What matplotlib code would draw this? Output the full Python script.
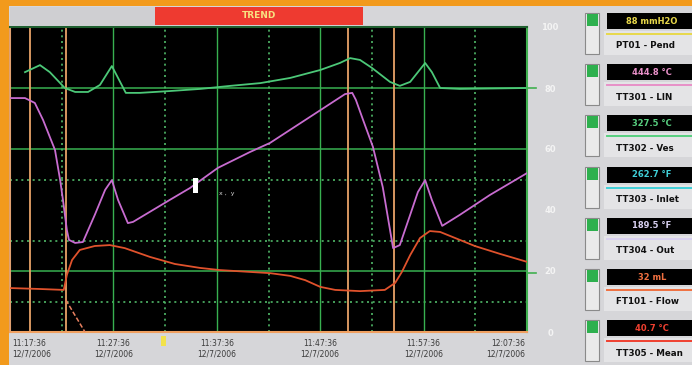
import matplotlib
matplotlib.use("Agg")
import matplotlib.pyplot as plt
from matplotlib.patches import Rectangle
from matplotlib.lines import Line2D

# ---------------- data ----------------
green_x = [2.9, 5.8, 7.7, 10.6, 12.6, 15.1, 17.4, 19.7, 21.3, 22.4, 25.1, 30.9, 36.8, 42.6,
           48.4, 54.2, 60.0, 63.8, 65.8, 67.7, 70.0, 73.5, 75.4, 77.4, 78.9, 80.3, 81.6,
           83.2, 87.0, 100.0]
green_y = [85.2, 87.5, 85.2, 80.0, 78.7, 78.7, 81.0, 87.2, 82.0, 78.4, 78.4, 79.0, 79.7, 80.7,
           81.6, 83.3, 85.9, 88.2, 89.8, 89.2, 86.6, 82.0, 80.7, 82.0, 85.2, 88.2, 85.2,
           80.0, 79.7, 80.0]

magenta_x = [0.2, 2.9, 4.8, 6.4, 8.7, 9.7, 10.3, 11.0, 11.4, 12.6, 14.1, 16.4, 18.4, 19.7,
             20.9, 22.8, 23.8, 30.9, 34.8, 40.2, 46.4, 50.3, 57.1, 61.9, 64.8, 66.2, 66.9,
             68.3, 70.2, 72.1, 74.1, 75.4, 77.4, 78.9, 80.3, 81.6, 83.6, 87.0, 92.8, 100.0]
magenta_y = [76.7, 76.7, 75.1, 69.5, 59.7, 49.8, 42.6, 33.4, 30.2, 29.2, 29.5, 38.4, 46.6, 49.8,
             43.3, 35.7, 36.1, 43.3, 47.2, 53.8, 59.0, 62.0, 69.5, 74.8, 78.0, 78.4, 76.1,
             69.5, 60.7, 47.5, 27.5, 28.5, 38.4, 45.9, 49.8, 43.3, 34.8, 38.4, 44.9, 52.1]

red_x = [0.2, 5.8, 10.4, 11.0, 12.0, 13.5, 16.4, 19.3, 22.2, 27.1, 31.9, 36.8, 40.6, 46.4,
         50.3, 54.2, 57.1, 60.0, 62.9, 67.7, 72.5, 74.5, 75.8, 77.4, 79.3, 81.2, 83.2, 87.0,
         89.9, 94.8, 100.0]
red_y = [14.4, 14.1, 13.8, 18.7, 23.6, 26.9, 28.2, 28.5, 27.5, 24.6, 22.3, 21.0, 20.3, 19.7,
         19.3, 18.4, 17.0, 14.8, 13.8, 13.4, 13.8, 16.1, 19.7, 25.2, 30.8, 33.1, 32.8, 30.2,
         28.2, 25.6, 23.0]

salmon_x = [10.8, 14.5]
salmon_y = [10.5, 0.0]

cursor_x = [3.9, 10.8, 65.4, 74.3]

hgrid_solid = [80, 60, 20]
hgrid_dotted = [50, 30, 10]
vgrid_solid = [20, 40, 60, 80]
vgrid_dotted = [10, 30, 50, 70, 90]

right_ticks = [100, 80, 60, 40, 20, 0]
right_labels = ["100", "80", "60", "40", "20", "0"]

time_ticks = [0, 20, 40, 60, 80, 100]
time_labels = ["11:17:36", "11:27:36", "11:37:36", "11:47:36", "11:57:36", "12:07:36"]
date_labels = ["12/7/2006"] * 6

panel_values = ["88 mmH2O", "444.8 \u00b0C", "327.5 \u00b0C", "262.7 \u00b0F",
                "189.5 \u00b0F", "32 mL", "40.7 \u00b0C"]
panel_names = ["PT01 - Pend", "TT301 - LIN", "TT302 - Ves", "TT303 - Inlet",
               "TT304 - Out", "FT101 - Flow", "TT305 - Mean"]
panel_colors = ["#E8D84A", "#E890C8", "#58D080", "#40D0D8", "#D8D0F0", "#F07040", "#F04030"]

title_text = "TREND"

# ---------------- figure ----------------
W, H = 692, 365
fig = plt.figure(figsize=(W / 100, H / 100), dpi=100)
fig.patch.set_facecolor("#D6D6D9")


def rect(x0, y0, x1, y1, **kw):
    r = Rectangle((x0 / W, 1 - y1 / H), (x1 - x0) / W, (y1 - y0) / H,
                  transform=fig.transFigure, **kw)
    fig.add_artist(r)
    return r


def fline(xs, ys, **kw):
    l = Line2D([x / W for x in xs], [1 - y / H for y in ys], transform=fig.transFigure, **kw)
    fig.add_artist(l)


def ftext(x, y, s, **kw):
    fig.text(x / W, 1 - y / H, s, **kw)


# orange frame
rect(0, 0, W, 6, facecolor="#F29A1C", edgecolor="none")
rect(0, 0, 9, H, facecolor="#F29A1C", edgecolor="none")

# header bars
rect(10, 7, 155, 25, facecolor="#CFCFD2", edgecolor="none")
rect(155, 7, 363, 25, facecolor="#EE3A30", edgecolor="none")
ftext(259, 16, title_text, color="#F8E080", fontsize=6.5, fontweight="bold",
      ha="center", va="center")

# ---------------- plot axes ----------------
ax = fig.add_axes([10 / W, (H - 332) / H, 517 / W, 305 / H])
ax.set_facecolor("black")
ax.set_xlim(0, 100)
ax.set_ylim(0, 100)
ax.set_xticks([])
ax.set_yticks([])
for side, col in [("left", "#E0A070"), ("bottom", "#F0A060"), ("top", "#206030"), ("right", "#40B050")]:
    ax.spines[side].set_color(col)
    ax.spines[side].set_linewidth(1.5)

for y in hgrid_solid:
    ax.axhline(y, color="#38B050", lw=1.1, zorder=1)
for y in hgrid_dotted:
    ax.axhline(y, color="#50B868", lw=1.2, ls=(0, (1.2, 2.2)), zorder=1)
for x in vgrid_solid:
    ax.axvline(x, color="#38B050", lw=1.0, zorder=1)
for x in vgrid_dotted:
    ax.axvline(x, color="#50B868", lw=1.2, ls=(0, (1.2, 2.2)), zorder=1)

for x in cursor_x:
    ax.axvline(x, color="#E8A268", lw=1.3, zorder=2)

ax.plot(red_x, red_y, color="#E0522C", lw=1.3, zorder=3)
ax.plot(salmon_x, salmon_y, color="#E88060", lw=1.1, ls=(0, (3, 1.5)), zorder=3)
ax.plot(magenta_x, magenta_y, color="#C86CD0", lw=1.3, zorder=4)
ax.plot(green_x, green_y, color="#4CC878", lw=1.3, zorder=5)

# white cursor marker and its readout
ax.add_patch(Rectangle((35.3, 45.5), 1.0, 5.0, facecolor="white", edgecolor="none", zorder=6))
ax.text(40.5, 45.0, "x ,  y", color="#D8D8D8", fontsize=4.5, zorder=6)

# right axis stubs of solid lines
fline([527, 536], [88, 88], color="#40B050", lw=1.2)
fline([527, 536], [273, 273], color="#40B050", lw=1.2)

# right axis labels
for v, s in zip(right_ticks, right_labels):
    py = 332 - v * 3.05
    ftext(550, py + 1, s, color="#F4F4F4", fontsize=6, ha="center", va="center",
          fontweight="bold")

# time labels
for v, t, d in zip(time_ticks, time_labels, date_labels):
    px = 10 + v * 5.17
    ha = "center"
    if v == 0:
        px += 2
        ha = "left"
    elif v == 100:
        px -= 2
        ha = "right"
    ftext(px, 343, t, color="#3A3A3A", fontsize=5.5, ha=ha, va="center")
    ftext(px, 354, d, color="#3A3A3A", fontsize=5.5, ha=ha, va="center")

# yellow marker under the time axis
rect(161, 336, 166, 346, facecolor="#F2E24A", edgecolor="none")

# ---------------- right panels ----------------
for i in range(7):
    top = 13 + 51.2 * i
    rect(585, top, 599, top + 41, facecolor="#EAEAEA", edgecolor="#8A8A8A", lw=0.8)
    rect(587, top + 1, 598, top + 13, facecolor="#2EB04E", edgecolor="none")
    rect(604, top + 18, 692, top + 42, facecolor="#E4E4E6", edgecolor="none")
    fline([607, 692], [top + 21, top + 21], color=panel_colors[i], lw=1.4)
    rect(607, top, 692, top + 16, facecolor="black", edgecolor="none")
    ftext(652, top + 8, panel_values[i], color=panel_colors[i], fontsize=6,
          fontweight="bold", ha="center", va="center")
    ftext(616, top + 33, panel_names[i], color="#101010", fontsize=6.3,
          fontweight="bold", ha="left", va="center")

fig.savefig("out.png", dpi=100, facecolor=fig.get_facecolor())
